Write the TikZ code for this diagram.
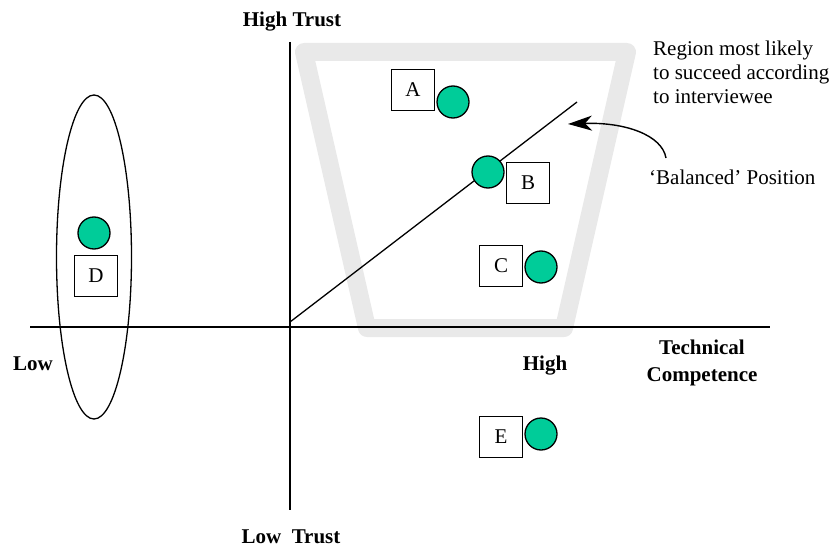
\documentclass[tikz,border=0pt]{standalone}
\usepackage{fontspec}
\setmainfont{Liberation Serif}
\usetikzlibrary{arrows.meta,shapes.geometric}
\definecolor{dotgreen}{RGB}{0,204,153}
\definecolor{bandgrey}{RGB}{233,233,233}
\begin{document}
\begin{tikzpicture}[x=1pt,y=-1pt,
  lbl/.style={font=\fontsize{21}{24}\selectfont,inner sep=0pt},
  blbl/.style={font=\fontsize{21}{27}\selectfont\bfseries,inner sep=0pt},
  letterbox/.style={draw,line width=1.3pt,minimum width=43pt,minimum height=41pt,inner sep=0pt,fill=white,font=\fontsize{21}{24}\selectfont},
  dot/.style={circle,draw,line width=1.3pt,fill=dotgreen,minimum size=32pt,inner sep=0pt},
  axis/.style={line width=1.3pt}]
\useasboundingbox (0,0) rectangle (837,548);
% grey region
\draw[bandgrey,line width=18pt,line join=round] (304,52) -- (627,52) -- (564,328) -- (367,328) -- cycle;
% axes
\coordinate (xl) at (30,327);
\coordinate (xr) at (770,327);
\coordinate (yt) at (290,42);
\coordinate (yb) at (290,510);
\draw[axis] (xl) -- (xr);
\draw[axis] (yt) -- (yb);
% balanced line
\coordinate (o) at (290,322);
\coordinate (d) at (577,102);
\draw[axis] (o) -- (d);
% ellipse
\node[draw,ellipse,line width=1.3pt,minimum width=75pt,minimum height=324pt,inner sep=0pt] (ell) at (94,257) {};
% boxes and dots
\node[letterbox] (A) at (413,90) {A};
\node[dot] (dA) at (453,102) {};
\node[letterbox] (B) at (528,183) {B};
\node[dot] (dB) at (488,172) {};
\node[letterbox] (C) at (501,266) {C};
\node[dot] (dC) at (541,267) {};
\node[letterbox] (D) at (96,276) {D};
\node[dot] (dD) at (94,233) {};
\node[letterbox] (E) at (501,437) {E};
\node[dot] (dE) at (541,434) {};
% labels
\node[blbl,anchor=base] (ht) at (292,27) {High Trust};
\node[blbl,anchor=base] (lt) at (291,543) {Low\ \ Trust};
\node[blbl,anchor=base] (low) at (33,370) {Low};
\node[blbl,anchor=base] (high) at (545,370) {High};
\node[blbl,align=center,anchor=north] (tc) at (702,340) {Technical\\Competence};
\node[lbl,align=left,anchor=north west] (reg) at (653,40.5) {Region most likely\\to succeed according\\to interviewee};
\node[lbl,anchor=base west] (bal) at (649,184) {‘Balanced’ Position};
% arrow
\coordinate (arrs) at (666,158);
\coordinate (arre) at (568,124);
\draw[line width=1.4pt,-{Stealth[length=24pt,width=15pt,inset=7pt]}] (arrs) .. controls (662,135) and (625,122) .. (arre);
\end{tikzpicture}
\end{document}
